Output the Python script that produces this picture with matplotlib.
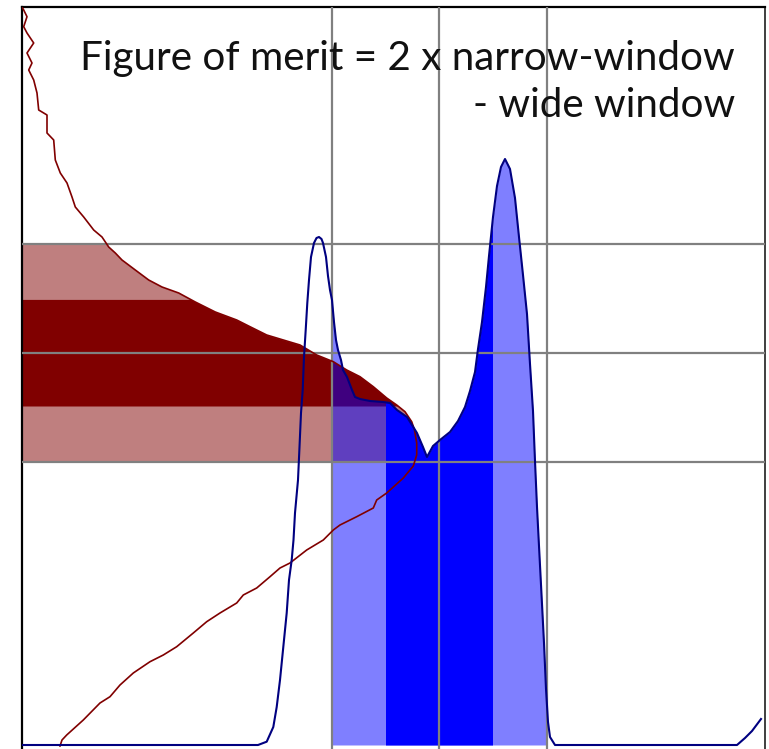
import numpy as np
import matplotlib
matplotlib.use("Agg")
import matplotlib.pyplot as plt

# Pulse-height spectrum (channel, counts) with a low peak and a main peak
spec_x = [0, 236, 244.7, 251.3, 254.7, 258, 261.3, 264.7, 267, 269.7, 271.5, 273, 276,
          277.5, 279, 280.7, 282, 283.7, 285.3, 287, 289, 292, 294.5, 297, 299.5, 301,
          304, 306, 308, 310, 312, 314, 316, 319, 321, 325, 330, 333, 338, 348, 361,
          368, 375, 385, 395, 401, 405, 411, 418, 428, 436, 443, 448, 453, 456, 460,
          464, 467, 471, 475, 479, 483, 488, 493, 497, 501, 505, 508, 511, 513, 515,
          517, 520, 522, 524, 526, 528, 533, 715, 723, 730, 739]
spec_y = [0, 0, 3.3, 18, 38, 65, 98, 132, 165, 185, 205, 232, 265,
          298, 332, 355, 388, 415, 442, 465, 488, 502, 507, 508, 506, 502,
          488, 469, 455, 445, 423, 405, 395, 385, 375, 368, 355, 348, 346, 344, 343,
          342, 335, 328, 312, 298, 288, 299, 305, 313, 324, 338, 354, 373, 396, 423,
          458, 489, 528, 559, 578, 586, 576, 547, 508, 470, 431, 381, 334, 284, 238,
          199, 141, 102, 56, 23, 8, 0, 0, 7, 14, 26]

# Threshold scan curve (channel, level)
scan_x = [0.5, 1.7, 5, 1.7, 5, 11.7, 5, 10, 6.7, 11.7, 15, 16.7, 25, 25, 31.7, 33.3,
          38.3, 45, 50, 53.3, 61.7, 71.7, 80, 86.7, 93.3, 100, 113.3, 126.7, 140,
          156.7, 173.3, 193.3, 214.7, 228, 244.7, 261.3, 278, 294.7, 311.3, 324.7,
          338, 351.3, 364.7, 374.7, 383, 389.7, 392.5, 394.7, 394.7, 391.3, 381.3,
          364.7, 354.7, 351.3, 334.7, 318, 311.3, 301.3, 284.7, 268, 258, 248, 234.7,
          221.3, 214.7, 198, 184.7, 171.3, 154.7, 141.3, 128, 111.3, 98, 88, 78,
          61.3, 44.7, 40, 38]
scan_y = [737, 735, 728.3, 718.3, 712, 702, 692, 682, 675, 665, 652, 635, 630, 612,
          605, 585, 572, 562, 548, 538, 528, 515, 508, 498, 492, 485, 475, 465, 458,
          452, 443, 433, 425, 418.3, 410, 405, 400, 390, 383.3, 375, 368.3, 358.3,
          347, 340, 333.3, 323.3, 315, 302, 290, 279, 267, 252, 245, 237, 228.3, 220,
          215, 205, 195, 182, 177, 168.3, 157, 150, 142, 132, 123.3, 112, 98.3, 90,
          83.3, 72, 60, 48.3, 42, 25, 10, 5, -1]

# Energy windows on the channel axis (narrow, wide) and on the level axis
x_center, x_narrow, x_wide = 417.0, 53.5, 107.5
y_center, y_narrow, y_wide = 392.3, 53.3, 108.8

DARK_RED = "#800000"
BLUE = "#0000ff"
NAVY = "#000080"

W, H = 769, 749
fig = plt.figure(figsize=(W / 100, H / 100), dpi=100)
ax = fig.add_axes([22 / W, 0, (765 - 22) / W, (749 - 7) / H])
ax.set_xlim(0, 743)
ax.set_ylim(-4, 738)
ax.set_xticks([])
ax.set_yticks([])
for side in ("left", "top"):
    ax.spines[side].set_linewidth(1.6)
    ax.spines[side].set_color("black")
ax.spines["right"].set_linewidth(1.3)
ax.spines["right"].set_color("#303030")
ax.spines["bottom"].set_visible(False)

sx = np.asarray(spec_x, float)
sy = np.asarray(spec_y, float)
cx = np.asarray(scan_x, float)
cy = np.asarray(scan_y, float)

# Upper branch of the scan curve: level decreases monotonically along it
lo_wide = y_center - y_wide
stop = int(np.argmax(cy < lo_wide - 5))
ub_x, ub_y = cx[:stop][::-1], cy[:stop][::-1]


def level_band(lo, hi, alpha):
    yy = np.concatenate([[lo], ub_y[(ub_y > lo) & (ub_y < hi)], [hi]])
    xx = np.interp(yy, ub_y, ub_x)
    ax.fill_betweenx(yy, 0, xx, color=DARK_RED, alpha=alpha, lw=0, zorder=1)


def channel_band(lo, hi, alpha):
    xx = np.concatenate([[lo], sx[(sx > lo) & (sx < hi)], [hi]])
    yy = np.interp(xx, sx, sy)
    ax.fill_between(xx, 0, yy, color=BLUE, alpha=alpha, lw=0, zorder=2)


level_band(y_center - y_wide, y_center + y_wide, 0.5)
level_band(y_center - y_narrow, y_center + y_narrow, 1.0)
channel_band(x_center - x_wide, x_center + x_wide, 0.5)
channel_band(x_center - x_narrow, x_center + x_narrow, 1.0)

# Window edges and centres
for v in (x_center - x_wide, x_center, x_center + x_wide):
    ax.axvline(v, color="#808080", lw=1.6, zorder=3)
for v in (y_center - y_wide, y_center, y_center + y_wide):
    ax.axhline(v, color="#808080", lw=1.6, zorder=3)

ax.plot(cx, cy, color=DARK_RED, lw=1.2, zorder=4)
ax.plot(sx, sy, color=NAVY, lw=1.5, zorder=5)

# Annotation, right-aligned, sized to span its line
line1 = "Figure of merit = 2 x narrow-window"
line2 = "- wide window"
fs = 28
t1 = fig.text(735 / W, 1 - 70 / H, line1, ha="right", va="baseline",
              fontsize=fs, color="#111111", family="Lato", weight="normal")
fig.canvas.draw()
width = t1.get_window_extent().width
fs = fs * 655 / width
t1.set_fontsize(fs)
fig.text(735 / W, 1 - 117 / H, line2, ha="right", va="baseline",
         fontsize=fs, color="#111111", family="Lato", weight="normal")

fig.savefig("out.png", dpi=100)
